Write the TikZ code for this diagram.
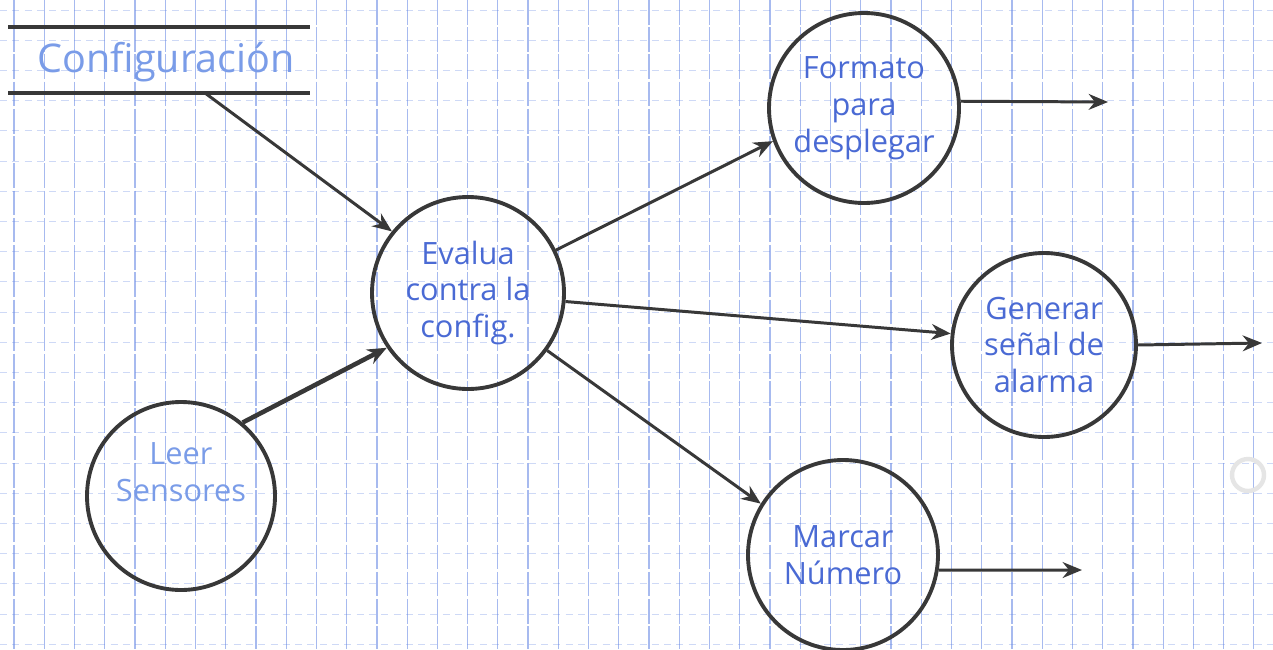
\documentclass[tikz,border=0pt]{standalone}
\usepackage{fontspec}
\setmainfont{Open Sans}
\usetikzlibrary{arrows.meta}
\definecolor{ink}{RGB}{56,56,56}
\definecolor{pen}{RGB}{74,106,212}
\definecolor{penlight}{RGB}{122,156,232}
\definecolor{gridblue}{RGB}{96,130,226}
\tikzset{
  gridv/.style={draw=gridblue, opacity=0.55, line width=0.7pt, dash pattern=on 14pt off 1.5pt},
  gridh/.style={draw=gridblue, opacity=0.3, line width=0.5pt, dash pattern=on 4pt off 3pt},
  proc/.style={circle, draw=ink, line width=2.2pt, inner sep=0pt, align=center,
    font=\fontsize{17.5}{21}\selectfont, text=pen},
  storeline/.style={draw=ink, line width=2.2pt},
  flow/.style={draw=ink, line width=1.7pt, -{Stealth[length=11pt,width=9pt]}},
  heavyflow/.style={flow, line width=2.6pt},
}
\begin{document}
\begin{tikzpicture}[x=0.02cm, y=-0.02cm]
\useasboundingbox (0,0) rectangle (1273,649);
\fill[white] (0,0) rectangle (1273,649);

% squared paper
\foreach \i in {0,...,41} \draw[gridv] ({14+30.24*\i},0) -- ({14+30.24*\i},649);
\foreach \j in {0,...,21} \draw[gridh] (0,{10+30.2*\j}) -- (1273,{10+30.2*\j});

% data store
\draw[storeline] (8,27) -- (310,27);
\draw[storeline] (8,93) -- (310,93);
\node[text=penlight, font=\fontsize{22.5}{26}\selectfont] (cfg) at (166,62) {Configuración};
\coordinate (cfgout) at (205,93);

% processes
\node[proc, minimum size=192*0.02cm] (eval) at (468,293) {Evalua\\contra la\\config.};
\node[proc, minimum size=190*0.02cm] (fmt) at (864,108) {Formato\\para\\desplegar};
\node[proc, minimum size=184*0.02cm] (alarm) at (1044,345) {Generar\\señal de\\alarma};
\node[proc, minimum size=190*0.02cm] (mark) at (843,555) {Marcar\\Número};
\node[proc, minimum size=188*0.02cm, text=penlight] (read) at (181,496) {Leer\\Sensores\\[6pt]};

% outgoing ends
\coordinate (fmtout) at (1108,102);
\coordinate (alarmout) at (1262,343);
\coordinate (markout) at (1082,570);

% flows
\draw[flow] (cfgout) -- (eval.141);
\draw[heavyflow] (read.50) -- (eval.214);
\draw[flow] (eval.26) -- (fmt.200);
\draw[flow] (eval.355) -- (alarm.173);
\draw[flow] (eval.324) -- (mark.148);
\draw[flow] (fmt.4) -- (fmtout);
\draw[flow] (alarm.east) -- (alarmout);
\draw[flow] (mark.-9) -- (markout);

% faint ring at the right edge
\draw[black!10, line width=2.5pt] (1248,475) circle[radius=16];
\end{tikzpicture}
\end{document}
